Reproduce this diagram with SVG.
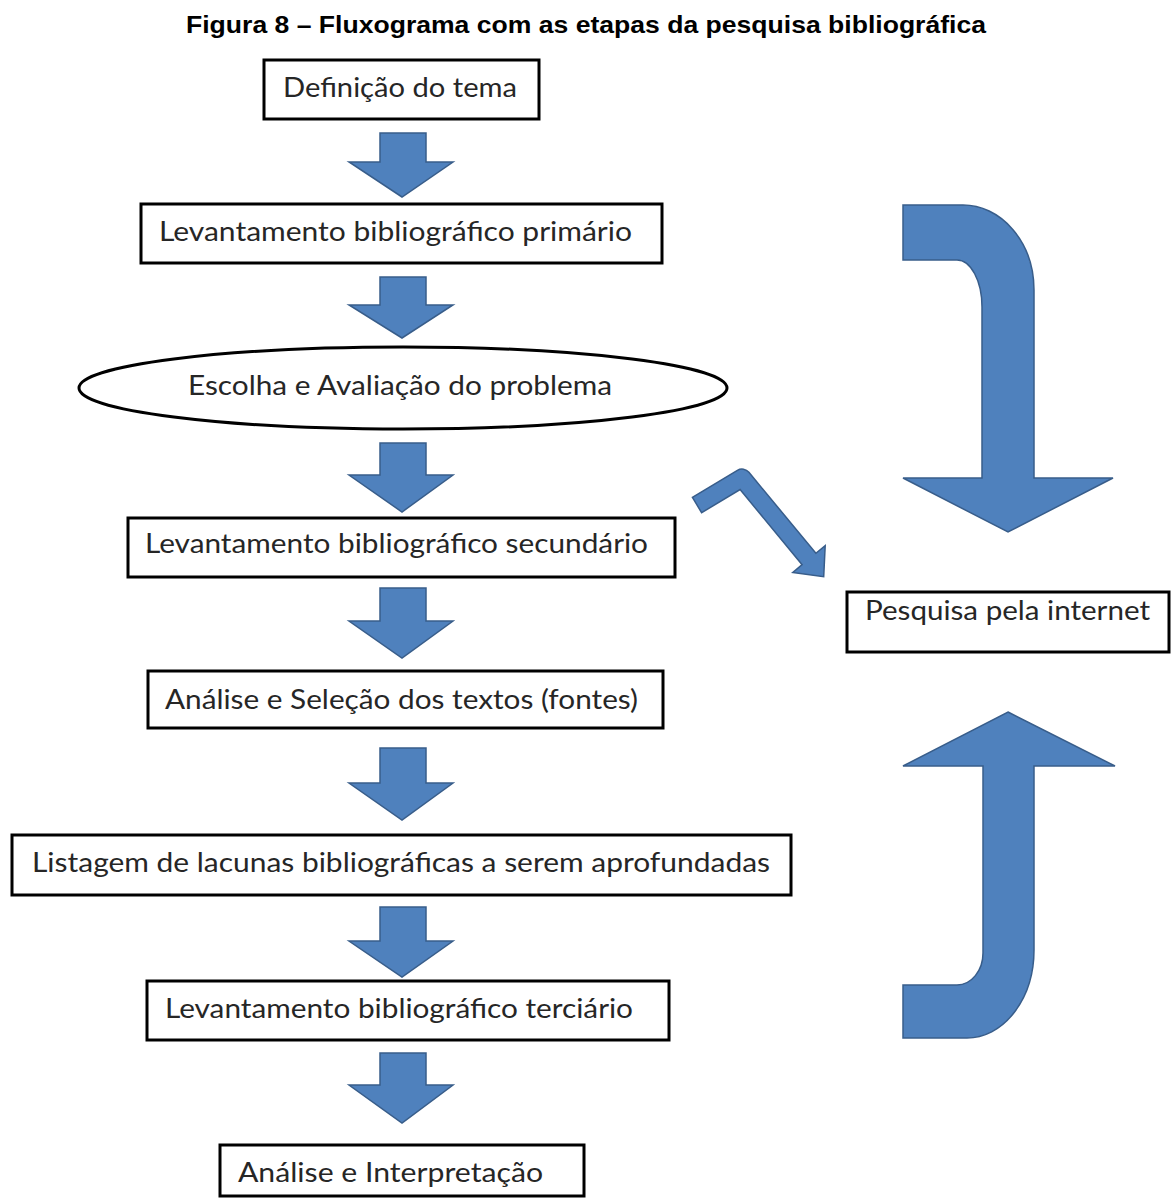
<svg xmlns="http://www.w3.org/2000/svg" width="1171" height="1198" viewBox="0 0 1171 1198">
<style>
.box{fill:#fff;stroke:#000;stroke-width:3}
.lbl{font-family:Lato,"Open Sans","Liberation Sans",sans-serif;font-size:27px;fill:#262626}
.arr{fill:#4f81bd;stroke:#385d8a;stroke-width:1.5;stroke-linejoin:miter}
.title{font-family:"Liberation Sans",Arial,sans-serif;font-weight:bold;font-size:24px;fill:#000}
</style>
<rect width="1171" height="1198" fill="#fff"/>
<text class="title" x="586" y="33" text-anchor="middle" textLength="800" lengthAdjust="spacingAndGlyphs">Figura 8 – Fluxograma com as etapas da pesquisa bibliográfica</text>

<g id="connectors">
<path class="arr" d="M380,133 H426 V162 H453 L402,197 L349,162 H380 Z"/>
<path class="arr" d="M380,277 H426 V305 H453 L402,338 L349,305 H380 Z"/>
<path class="arr" d="M380,443 H426 V475 H453 L402,512 L349,475 H380 Z"/>
<path class="arr" d="M380,588 H426 V621 H453 L402,658 L349,621 H380 Z"/>
<path class="arr" d="M380,748 H426 V783 H453 L402,820 L349,783 H380 Z"/>
<path class="arr" d="M380,907 H426 V941 H453 L402,977 L349,941 H380 Z"/>
<path class="arr" d="M380,1053 H426 V1085 H453 L402,1123 L349,1085 H380 Z"/>
<path class="arr" d="M692.4,497.3 L737.4,470.3 A9,9 0 0 1 748.9,472.3 L815.9,553.3 L825.2,545.6 L823.7,576.7 L792.8,572.4 L802.1,564.7 L740.1,489.6 L701.6,512.7 Z"/>
<path class="arr" d="M903,205 L963,205 A71,85 0 0 1 1034,290 L1034,478 L1113,478 L1008,532 L903,478 L982,478 L982,307 A25,47 0 0 0 957,260 L903,260 Z"/>
<path class="arr" d="M1008,712 L1115,766 L1034,766 L1034,950 A67,88 0 0 1 967,1038 L903,1038 L903,985 L957,985 A26,32 0 0 0 983,953 L983,766 L903,766 Z"/>
</g>

<g id="n1"><rect class="box" x="264" y="60" width="275" height="59"/><text class="lbl" x="283" y="97" textLength="234" lengthAdjust="spacingAndGlyphs">Definição do tema</text></g>
<g id="n2"><rect class="box" x="141" y="204" width="521" height="59"/><text class="lbl" x="159" y="241" textLength="473" lengthAdjust="spacingAndGlyphs">Levantamento bibliográfico primário</text></g>
<g id="n3"><ellipse class="box" cx="403" cy="388" rx="324" ry="41"/><text class="lbl" x="188" y="395" textLength="424" lengthAdjust="spacingAndGlyphs">Escolha e Avaliação do problema</text></g>
<g id="n4"><rect class="box" x="128" y="518" width="547" height="59"/><text class="lbl" x="145" y="553" textLength="503" lengthAdjust="spacingAndGlyphs">Levantamento bibliográfico secundário</text></g>
<g id="n5"><rect class="box" x="148" y="671" width="515" height="57"/><text class="lbl" x="165" y="709" textLength="473" lengthAdjust="spacingAndGlyphs">Análise e Seleção dos textos (fontes)</text></g>
<g id="n6"><rect class="box" x="12" y="835" width="779" height="60"/><text class="lbl" x="32" y="872" textLength="738" lengthAdjust="spacingAndGlyphs">Listagem de lacunas bibliográficas a serem aprofundadas</text></g>
<g id="n7"><rect class="box" x="147" y="981" width="522" height="59"/><text class="lbl" x="165" y="1018" textLength="468" lengthAdjust="spacingAndGlyphs">Levantamento bibliográfico terciário</text></g>
<g id="n8"><rect class="box" x="220" y="1145" width="364" height="51"/><text class="lbl" x="238" y="1182" textLength="305" lengthAdjust="spacingAndGlyphs">Análise e Interpretação</text></g>
<g id="n9"><rect class="box" x="847" y="592" width="322" height="60"/><text class="lbl" x="865" y="620" textLength="285" lengthAdjust="spacingAndGlyphs">Pesquisa pela internet</text></g>
</svg>
